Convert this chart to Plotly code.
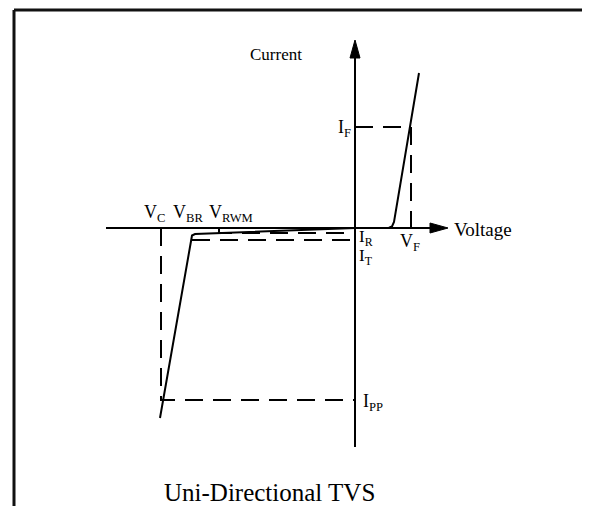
import plotly.graph_objects as go

# -----------------------------
# DATA (schematic units: voltage / current)
# -----------------------------
curve_v = [-19.5, -16.45, -16.3, -16.0, 0.0, 3.4, 3.7, 3.9, 6.4]
curve_i = [-19.0, -1.3, -0.75, -0.6, 0.0, 0.03, 0.15, 0.6, 15.5]

v_axis = [-24.9, 9.3]
i_axis = [-21.9, 18.8]

V_C, V_BR, V_RWM, V_F = -19.4, -16.3, -13.6, 5.6
I_F, I_R, I_T, I_PP = 10.1, -0.5, -1.2, -17.2

FONT = "Liberation Serif, Times New Roman, serif"
BLACK = "#000000"
DASH = "18px,10px"

fig = go.Figure()

# -----------------------------
# AXES
# -----------------------------
head_len, head_half = 1.8, 0.5
fig.add_trace(go.Scatter(x=[v_axis[0], v_axis[1] - head_len], y=[0, 0], mode="lines",
                         line=dict(color=BLACK, width=2), hoverinfo="skip"))
fig.add_trace(go.Scatter(x=[0, 0], y=[i_axis[0], i_axis[1] - head_len], mode="lines",
                         line=dict(color=BLACK, width=2), hoverinfo="skip"))

tip_v = v_axis[1]
fig.add_shape(type="path", xref="x", yref="y", fillcolor=BLACK, line=dict(color=BLACK, width=1),
              path=f"M {tip_v},0 L {tip_v - head_len},{head_half} L {tip_v - head_len},{-head_half} Z")
tip_i = i_axis[1]
fig.add_shape(type="path", xref="x", yref="y", fillcolor=BLACK, line=dict(color=BLACK, width=1),
              path=f"M 0,{tip_i} L {head_half},{tip_i - head_len} L {-head_half},{tip_i - head_len} Z")

# -----------------------------
# GUIDE LINES (dashed)
# -----------------------------
guides = [
    ([0, V_F, V_F], [I_F, I_F, 0]),
    ([V_RWM, V_RWM, 0], [0, I_R, I_R]),
    ([V_BR, 0], [I_T, I_T]),
    ([V_C, V_C, 0], [0, I_PP, I_PP]),
]
for gx, gy in guides:
    fig.add_trace(go.Scatter(x=gx, y=gy, mode="lines",
                             line=dict(color=BLACK, width=2, dash=DASH), hoverinfo="skip"))

# -----------------------------
# I-V CURVE
# -----------------------------
fig.add_trace(go.Scatter(x=curve_v, y=curve_i, mode="lines",
                         line=dict(color=BLACK, width=2), hoverinfo="skip"))

# -----------------------------
# LABELS
# -----------------------------
labels = [
    ("Current", -5.1, 17.4, "right", "middle", 17),
    ("Voltage", 9.7, -0.1, "left", "middle", 19),
    ("V<sub>C</sub>", V_C - 0.7, 0.15, "center", "bottom", 18),
    ("V<sub>BR</sub>", V_BR - 0.4, 0.15, "center", "bottom", 18),
    ("V<sub>RWM</sub>", V_RWM + 1.2, 0.15, "center", "bottom", 18),
    ("I<sub>R</sub>", 0.15, -0.95, "left", "middle", 17),
    ("I<sub>T</sub>", 0.15, -2.85, "left", "middle", 17),
    ("V<sub>F</sub>", V_F - 0.1, -1.4, "center", "middle", 18),
    ("I<sub>F</sub>", -0.2, I_F - 0.1, "right", "middle", 18),
    ("I<sub>PP</sub>", 0.6, I_PP - 0.2, "left", "middle", 18),
]
for txt, lx, ly, xa, ya, fs in labels:
    fig.add_annotation(x=lx, y=ly, text=txt, showarrow=False, xanchor=xa, yanchor=ya,
                       font=dict(family=FONT, size=fs, color=BLACK))

fig.add_annotation(x=-8.6, y=-24.9, text="Uni-Directional TVS", showarrow=False,
                   xanchor="center", yanchor="top", font=dict(family=FONT, size=25, color=BLACK))

# -----------------------------
# FRAME (page body adds 8px offset)
# -----------------------------
W, H = 582, 498
left, top, right = 6 / W, 1 - 2 / H, 581 / W
fig.add_shape(type="line", xref="paper", yref="paper", x0=left, x1=left, y0=top, y1=-0.02,
              line=dict(color="#111111", width=3))
fig.add_shape(type="line", xref="paper", yref="paper", x0=left, x1=right, y0=top, y1=top,
              line=dict(color="#111111", width=3))
fig.add_shape(type="line", xref="paper", yref="paper", x0=right, x1=right, y0=top, y1=-0.02,
              line=dict(color="#444444", width=1))

fig.update_layout(
    width=W, height=H,
    margin=dict(l=0, r=0, t=0, b=0),
    paper_bgcolor="white", plot_bgcolor="white",
    showlegend=False,
    xaxis=dict(range=[-34.7, 23.5], visible=False, fixedrange=True),
    yaxis=dict(range=[-27.8, 22.0], visible=False, fixedrange=True),
)

fig.write_html("out.html")
